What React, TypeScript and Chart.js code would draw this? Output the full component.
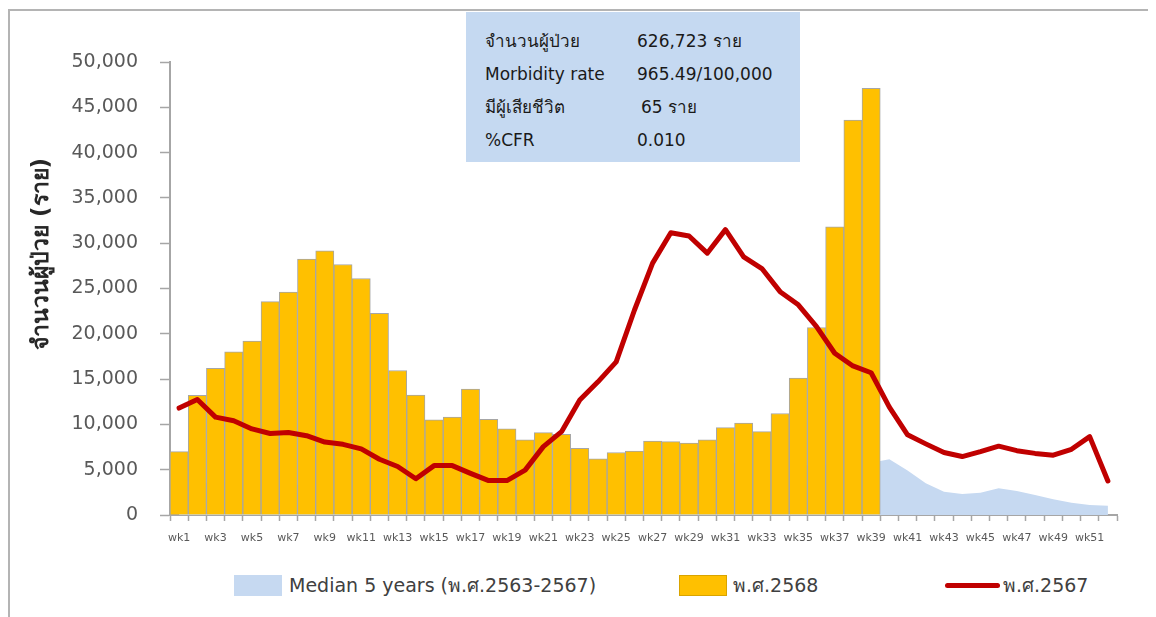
import React, { useEffect, useRef } from "react";
import { Chart, registerables } from "chart.js";

Chart.register(...registerables);

const weeks = [
  "wk1", "wk2", "wk3", "wk4", "wk5", "wk6", "wk7", "wk8", "wk9", "wk10",
  "wk11", "wk12", "wk13", "wk14", "wk15", "wk16", "wk17", "wk18", "wk19", "wk20",
  "wk21", "wk22", "wk23", "wk24", "wk25", "wk26", "wk27", "wk28", "wk29", "wk30",
  "wk31", "wk32", "wk33", "wk34", "wk35", "wk36", "wk37", "wk38", "wk39", "wk40",
  "wk41", "wk42", "wk43", "wk44", "wk45", "wk46", "wk47", "wk48", "wk49", "wk50",
  "wk51", "wk52",
];

// พ.ศ.2568 (bars) — weeks 1..39
const cases2568 = [
  7000, 13200, 16200, 18000, 19200, 23550, 24600, 28250, 29150, 27650,
  26100, 22250, 15950, 13250, 10500, 10800, 13900, 10550, 9500, 8300,
  9100, 8900, 7350, 6200, 6900, 7050, 8150, 8100, 7950, 8300,
  9650, 10150, 9200, 11200, 15100, 20700, 31800, 43600, 47100,
];

// พ.ศ.2567 (line)
const cases2567 = [
  11800, 12750, 10800, 10400, 9500, 9000, 9100, 8750, 8050, 7800,
  7300, 6150, 5350, 4000, 5450, 5450, 4600, 3800, 3800, 4950,
  7550, 9200, 12700, 14700, 16900, 22600, 27800, 31150, 30800, 28900,
  31500, 28500, 27200, 24650, 23200, 20800, 17850, 16450, 15700, 11900,
  8850, 7850, 6900, 6450, 7000, 7600, 7100, 6800, 6600, 7250,
  8650, 3750,
];

// Median 5 years (พ.ศ.2563-2567)
const median5y = [
  3200, 3500, 3600, 3700, 3600, 3500, 3400, 3300, 3100, 3000,
  2800, 2600, 2400, 2300, 2200, 2100, 2000, 2000, 2100, 2300,
  2600, 3000, 3400, 3800, 4300, 4800, 5200, 5500, 5700, 5800,
  5800, 5700, 5600, 5500, 5400, 5500, 5600, 5700, 5780, 6150,
  4900, 3500, 2580, 2320, 2460, 2940, 2650, 2200, 1730, 1360,
  1100, 1030,
];

const yTicks = [0, 5000, 10000, 15000, 20000, 25000, 30000, 35000, 40000, 45000, 50000];

const infoLabels = ["จำนวนผู้ป่วย", "Morbidity rate", "มีผู้เสียชีวิต", "%CFR"];
const infoValues = ["626,723 ราย", "965.49/100,000", "65 ราย", "0.010"];

const legendLabels = ["Median 5 years (พ.ศ.2563-2567)", "พ.ศ.2568", "พ.ศ.2567"];

const FONT = "Tahoma, 'DejaVu Sans', 'Noto Sans', sans-serif";
const GRAY = "#595959";
const AXIS = "#a6a6a6";

export default function App() {
  const ref = useRef<HTMLCanvasElement | null>(null);

  useEffect(() => {
    document.body.style.overflow = "hidden";
    if (!ref.current) return;
    const chart = new Chart(ref.current, {
      type: "bar",
      data: {
        labels: weeks,
        datasets: [
          {
            type: "line",
            label: legendLabels[2],
            data: cases2567,
            borderColor: "#c00000",
            backgroundColor: "#c00000",
            borderWidth: 5,
            pointRadius: 0,
            tension: 0,
            borderJoinStyle: "round",
            borderCapStyle: "round",
            fill: false,
            order: 0,
          } as any,
          {
            type: "bar",
            label: legendLabels[1],
            data: cases2568,
            backgroundColor: "#ffc000",
            borderColor: "#a6a6a6",
            borderWidth: 1,
            categoryPercentage: 1,
            barPercentage: 1,
            order: 1,
          } as any,
          {
            type: "line",
            label: legendLabels[0],
            data: median5y,
            borderWidth: 0,
            borderColor: "rgba(0,0,0,0)",
            backgroundColor: "#c6d9f1",
            pointRadius: 0,
            fill: "origin",
            tension: 0,
            order: 2,
          } as any,
        ],
      },
      options: {
        responsive: false,
        animation: false,
        layout: { padding: { top: 51, right: 33, left: 0, bottom: 6 } },
        plugins: {
          legend: { display: false },
          tooltip: { enabled: false },
          title: { display: false },
        },
        scales: {
          x: {
            offset: true,
            grid: {
              offset: true,
              drawOnChartArea: false,
              drawTicks: true,
              tickLength: 6,
              color: AXIS,
              tickColor: AXIS,
              tickWidth: 1.5,
            },
            border: { color: AXIS, width: 2 },
            ticks: {
              autoSkip: false,
              maxRotation: 0,
              minRotation: 0,
              padding: 11,
              color: GRAY,
              font: { family: FONT, size: 11 },
              callback: (_v: any, i: number) => (i % 2 === 0 ? weeks[i] : ""),
            },
            afterFit: (s: any) => {
              s.height = 50;
            },
          },
          y: {
            min: 0,
            max: 50000,
            afterBuildTicks: (s: any) => {
              s.ticks = yTicks.map((v) => ({ value: v }));
            },
            grid: {
              drawOnChartArea: false,
              drawTicks: true,
              tickLength: 10,
              color: AXIS,
              tickColor: AXIS,
              tickWidth: 1.5,
            },
            border: { color: AXIS, width: 2 },
            ticks: {
              padding: 22,
              color: GRAY,
              font: { family: FONT, size: 19 },
              callback: (v: any) => Number(v).toLocaleString("en-US"),
            },
            afterFit: (s: any) => {
              s.width = 160;
            },
          },
        },
      },
    });
    return () => chart.destroy();
  }, []);

  const rowStyle: React.CSSProperties = {
    position: "absolute",
    height: 33,
    lineHeight: "33px",
    fontSize: 17,
    color: "#1a1a1a",
    whiteSpace: "nowrap",
  };

  return (
    <div
      style={{
        position: "relative",
        marginTop: 1,
        width: 1146,
        height: 606,
        borderTop: "2px solid #b4b4b4",
        borderLeft: "2px solid #b4b4b4",
        fontFamily: FONT,
        overflow: "hidden",
      }}
    >
      <canvas ref={ref} width={1140} height={560} style={{ position: "absolute", left: 0, top: 0 }} />

      {/* y-axis title */}
      <div
        style={{
          position: "absolute",
          left: 30,
          top: 243,
          transform: "translate(-50%, -50%) rotate(-90deg)",
          whiteSpace: "nowrap",
          fontSize: 23,
          fontWeight: "bold",
          color: "#262626",
        }}
      >
        จำนวนผู้ป่วย (ราย)
      </div>

      {/* info box */}
      <div
        style={{
          position: "absolute",
          left: 456,
          top: 1,
          width: 334,
          height: 150,
          background: "#c5d9f1",
        }}
      >
        {infoLabels.map((l, i) => (
          <React.Fragment key={l}>
            <div style={{ ...rowStyle, left: 19, top: 13 + i * 33 }}>{l}</div>
            <div style={{ ...rowStyle, left: i === 2 ? 175 : 171, top: 13 + i * 33 }}>{infoValues[i]}</div>
          </React.Fragment>
        ))}
      </div>

      {/* legend */}
      <div style={{ position: "absolute", left: 224, top: 564, width: 48, height: 21, background: "#c6d9f1" }} />
      <div style={{ position: "absolute", left: 279, top: 560, height: 29, lineHeight: "29px", fontSize: 19, color: "#404040", whiteSpace: "nowrap" }}>
        {legendLabels[0]}
      </div>
      <div style={{ position: "absolute", left: 669, top: 564, width: 46, height: 19, background: "#ffc000", border: "1px solid #d9a400" }} />
      <div style={{ position: "absolute", left: 723, top: 560, height: 29, lineHeight: "29px", fontSize: 19, color: "#404040", whiteSpace: "nowrap" }}>
        {legendLabels[1]}
      </div>
      <div style={{ position: "absolute", left: 935, top: 572, width: 55, height: 5, background: "#c00000", borderRadius: 3 }} />
      <div style={{ position: "absolute", left: 993, top: 560, height: 29, lineHeight: "29px", fontSize: 19, color: "#404040", whiteSpace: "nowrap" }}>
        {legendLabels[2]}
      </div>
    </div>
  );
}
